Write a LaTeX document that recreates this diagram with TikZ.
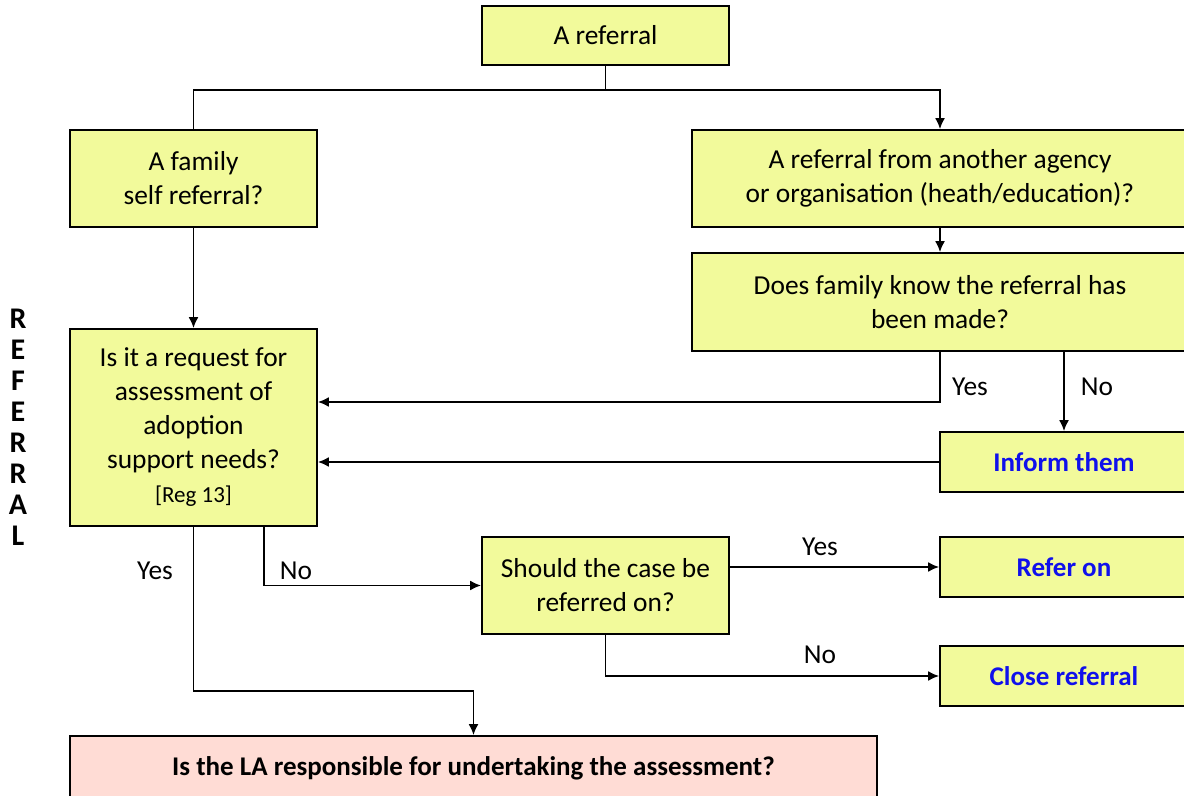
\documentclass[tikz,border=0pt]{standalone}
\usepackage{fontspec}
\setmainfont{Carlito}
\usetikzlibrary{arrows.meta}
\definecolor{boxyellow}{RGB}{242,250,155}
\definecolor{boxpink}{RGB}{255,220,213}
\definecolor{textblue}{RGB}{16,16,235}
\begin{document}
\begin{tikzpicture}[x=0.5pt,y=-0.5pt,
  box/.style={draw=black, line width=0.9pt, fill=boxyellow, align=center,
    font=\fontsize{13.7}{17}\selectfont, inner sep=0pt, minimum width=123.5pt},
  endbox/.style={box, minimum width=124pt, minimum height=30pt,
    font=\fontsize{13.5}{17}\selectfont\bfseries, text=textblue},
  line/.style={draw=black, line width=0.9pt},
  arr/.style={line, -{Latex[length=5.5pt,width=5pt]}},
  lbl/.style={font=\fontsize{13.7}{17}\selectfont, inner sep=0pt}]
\useasboundingbox (0,0) rectangle (1184,796);
\clip (0,0) rectangle (1184,796);

\node[box, minimum height=29.5pt] (ref) at (605.5,35.5) {A referral};
\node[box, minimum height=48.5pt] (fam) at (193.5,178.5) {A family\\self referral?};
\node[box, minimum width=248pt, minimum height=48.5pt] (agency) at (940,178.5)
  {A referral from another agency\\or organisation (heath/education)?};
\node[box, minimum width=248pt, minimum height=49pt] (know) at (940,302)
  {Does family know the referral has\\been made?};
\node[box, minimum height=98.5pt] (req) at (193.5,427.5)
  {Is it a request for\\assessment of\\adoption\\support needs?\\{\fontsize{11.5}{14}\selectfont [Reg 13]}};
\node[endbox] (inform) at (1064,462) {Inform them};
\node[box, minimum height=48.5pt] (should) at (605.5,585.5) {Should the case be\\referred on?};
\node[endbox] (referon) at (1064,567) {Refer on};
\node[endbox] (close) at (1064,676) {Close referral};
\node[box, fill=boxpink, minimum width=403.5pt, minimum height=32pt,
  font=\fontsize{13.5}{16}\selectfont\bfseries] (bottom) at (473.5,768)
  {Is the LA responsible for undertaking the assessment?};

\node[align=center, font=\fontsize{15}{15.5}\selectfont\bfseries, inner sep=0pt] (side) at (18,427)
  {R\\E\\F\\E\\R\\R\\A\\L};

\coordinate (split) at (605.5,90);
\coordinate (yesy) at (0,402);
\coordinate (nox) at (264,0);

\draw[line] (ref.south) -- (split) -| (fam.north);
\draw[arr] (split) -| (agency.north);
\draw[arr] (agency) -- (know);
\draw[arr] (fam) -- (req);
\draw[arr] (know.south) |- (req.east |- yesy);
\draw[arr] (inform.north |- know.south) -- (inform.north);
\draw[arr] (inform.west) -- (req.east |- inform.west);
\draw[arr] (req.south) -- ++(0,164) -| (bottom.north);
\draw[arr] (req.south -| nox) |- (should.west);
\draw[arr] (should.east |- referon.west) -- (referon.west);
\draw[arr] (should.south) |- (close.west);

\node[lbl] (l1) at (970,387) {Yes};
\node[lbl] (l2) at (1097,387) {No};
\node[lbl] (l3) at (155,571) {Yes};
\node[lbl] (l4) at (296,571) {No};
\node[lbl] (l5) at (820,547) {Yes};
\node[lbl] (l6) at (820,655) {No};
\end{tikzpicture}
\end{document}
